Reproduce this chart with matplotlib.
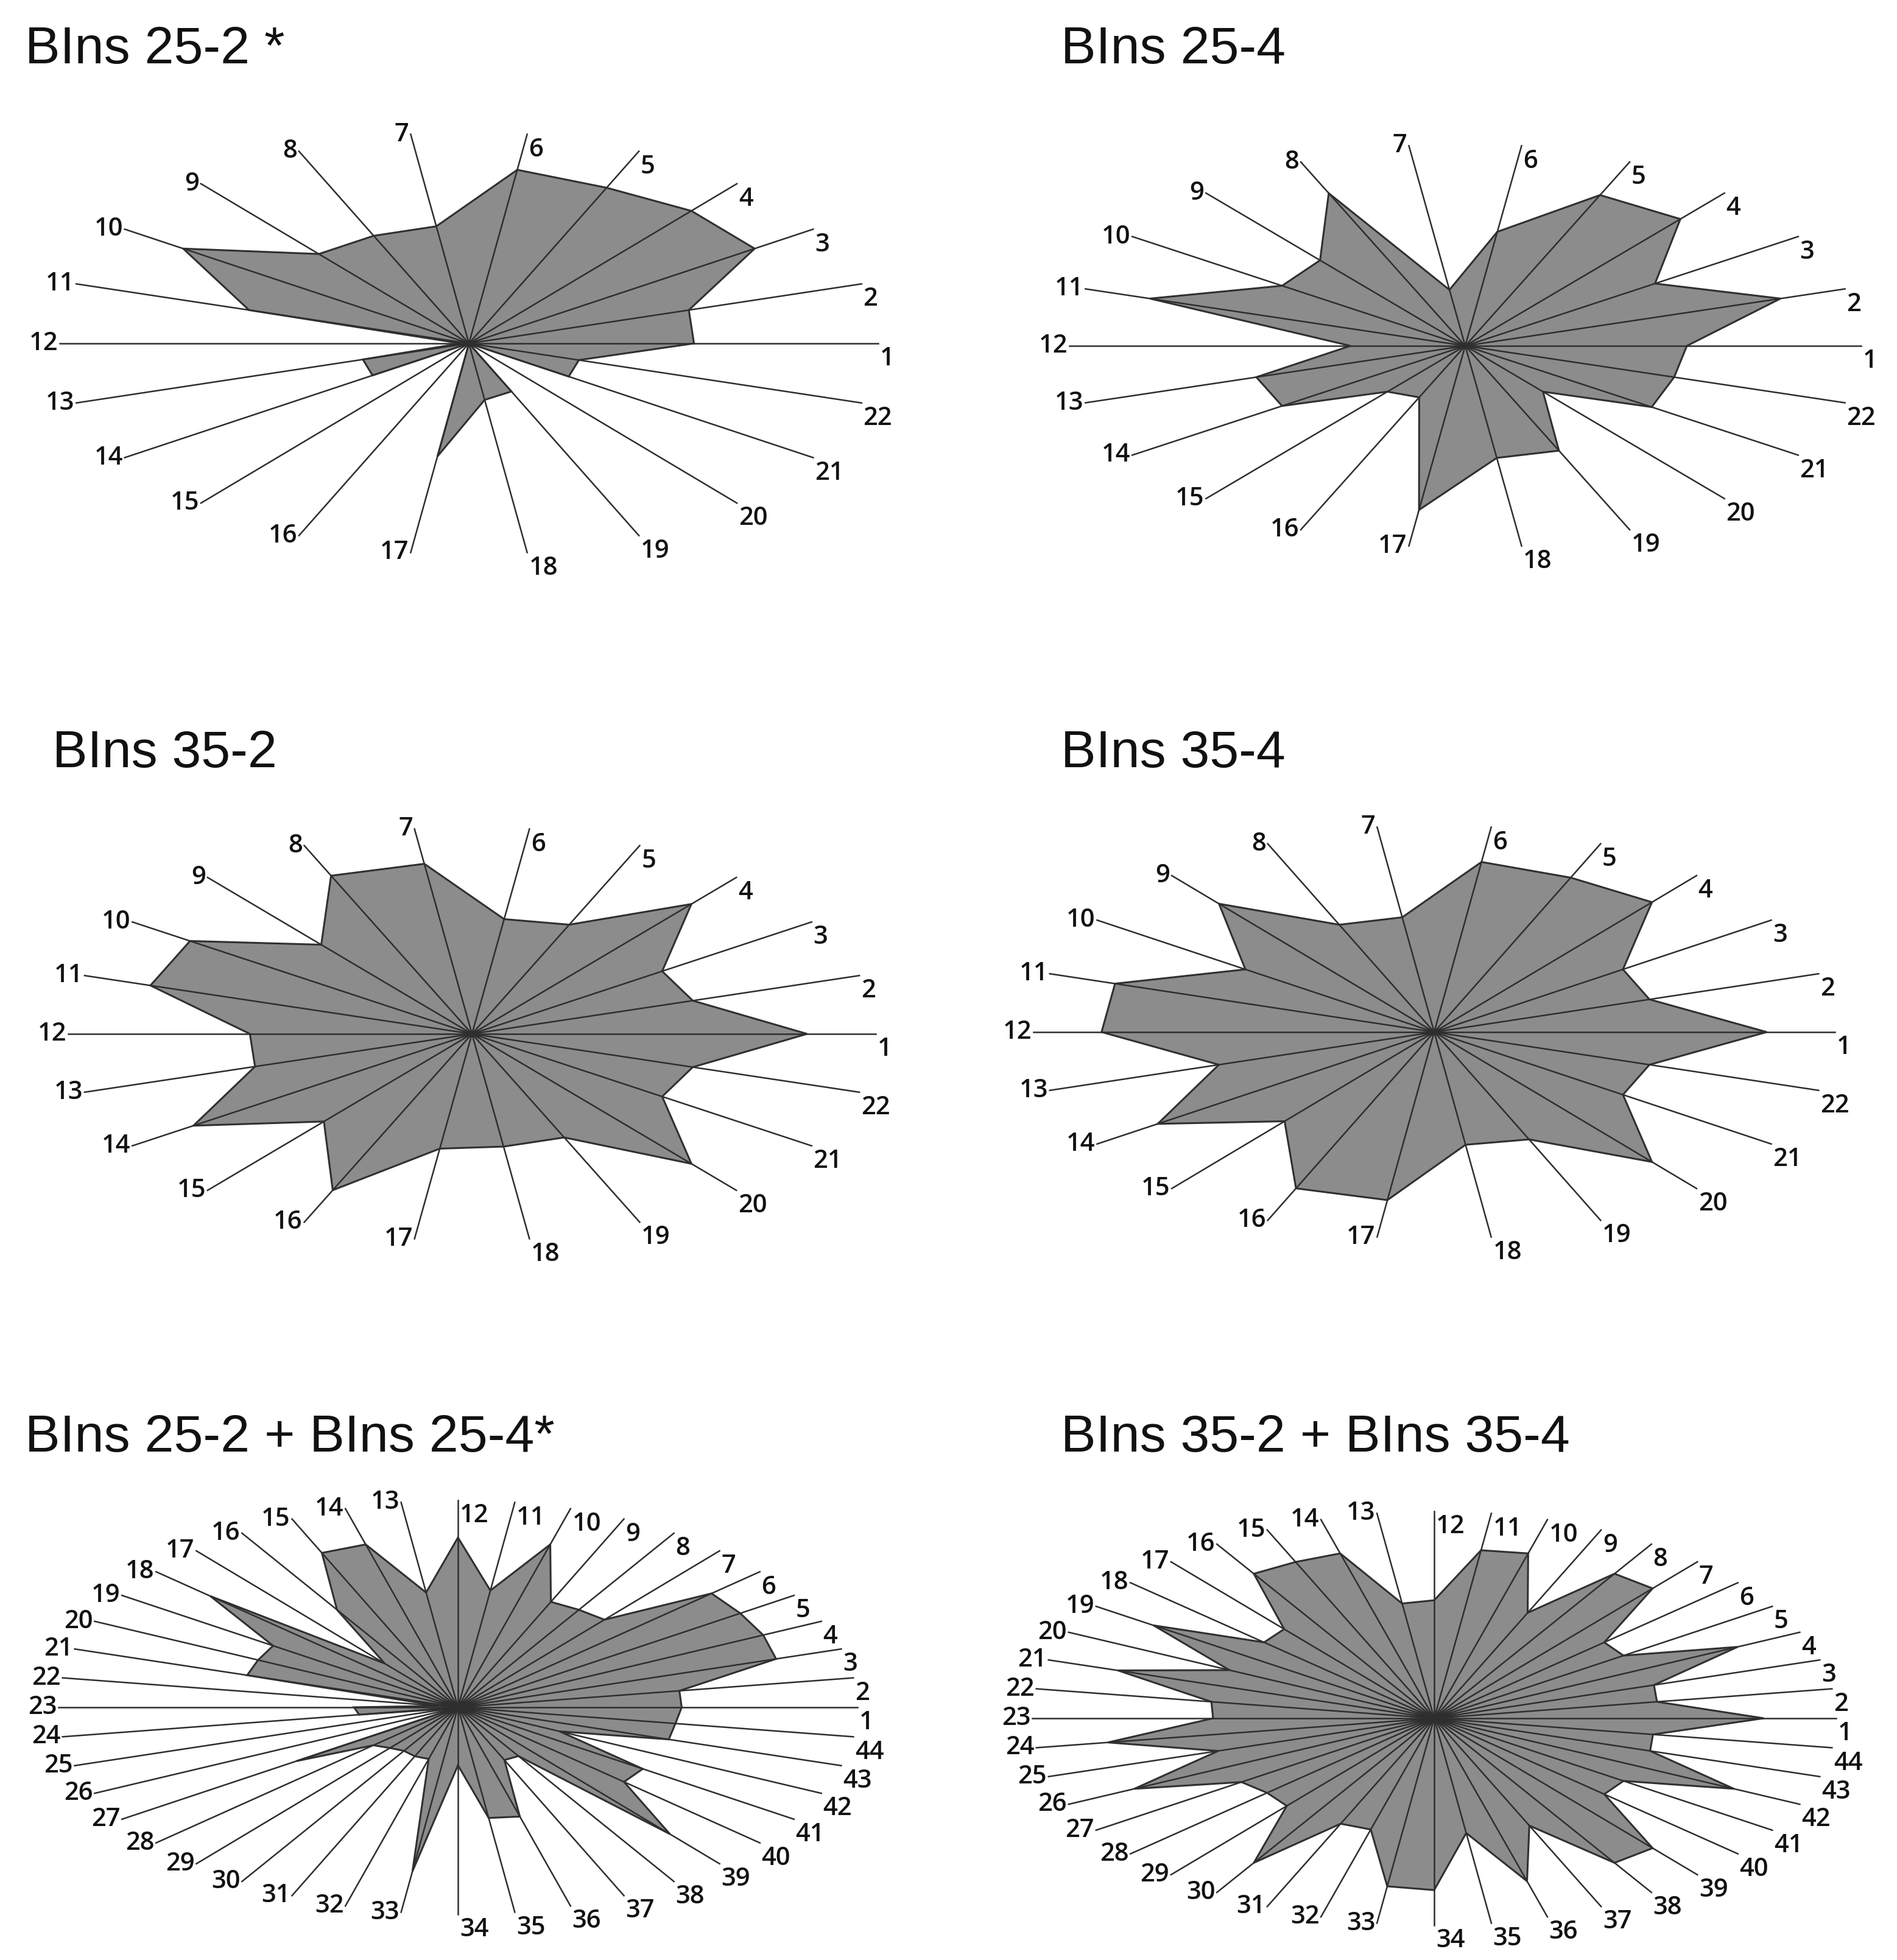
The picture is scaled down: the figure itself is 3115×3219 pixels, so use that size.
import numpy as np
import matplotlib.pyplot as plt

W, H = 3115, 3219

titles = ["BIns 25-2 *", "BIns 25-4", "BIns 35-2", "BIns 35-4",
          "BIns 25-2 + BIns 25-4*", "BIns 35-2 + BIns 35-4"]

# value on each spoke, as a fraction of the spoke length (spoke 1 first)
bins_25_2 = [0.55, 0.56, 0.83, 0.83, 0.81, 0.83, 0.56, 0.56, 0.56, 0.83, 0.56,
             0.02, 0.27, 0.28, 0.00, 0.00, 0.54, 0.27, 0.25, 0.00, 0.29, 0.28]
bins_25_4 = [0.56, 0.83, 0.57, 0.83, 0.82, 0.57, 0.28, 0.83, 0.56, 0.55, 0.83,
             0.29, 0.55, 0.55, 0.30, 0.28, 0.82, 0.56, 0.57, 0.30, 0.56, 0.55]
bins_35_2 = [0.83, 0.57, 0.56, 0.83, 0.58, 0.56, 0.83, 0.84, 0.57, 0.83, 0.83,
             0.55, 0.56, 0.82, 0.56, 0.83, 0.56, 0.55, 0.55, 0.83, 0.56, 0.57]
bins_35_4 = [0.83, 0.56, 0.56, 0.83, 0.82, 0.83, 0.56, 0.57, 0.82, 0.56, 0.83,
             0.83, 0.56, 0.82, 0.57, 0.83, 0.82, 0.55, 0.57, 0.83, 0.56, 0.56]
bins_25_both = [0.56, 0.56, 0.83, 0.84, 0.84, 0.84, 0.56, 0.56, 0.56, 0.82, 0.57,
                0.82, 0.56, 0.82, 0.82, 0.56, 0.28, 0.82, 0.55, 0.55, 0.55, 0.05,
                0.26, 0.25, 0.02, 0.00, 0.48, 0.28, 0.26, 0.25, 0.26, 0.26, 0.80,
                0.28, 0.54, 0.55, 0.28, 0.28, 0.81, 0.55, 0.55, 0.28, 0.55, 0.55]
bins_35_both = [0.82, 0.56, 0.57, 0.83, 0.56, 0.56, 0.83, 0.83, 0.56, 0.83, 0.82,
                0.57, 0.56, 0.83, 0.83, 0.83, 0.57, 0.56, 0.83, 0.56, 0.82, 0.56,
                0.55, 0.82, 0.56, 0.82, 0.57, 0.55, 0.56, 0.83, 0.56, 0.56, 0.82,
                0.83, 0.56, 0.82, 0.57, 0.83, 0.83, 0.56, 0.56, 0.82, 0.56, 0.55]

series = [bins_25_2, bins_25_4, bins_35_2, bins_35_4, bins_25_both, bins_35_both]

# layout in pixels: centre x, centre y, half width, half height, title x, title y
layout = [
    (770, 564, 672, 347, 41, 82),
    (2406, 568, 650, 332, 1742, 82),
    (775, 1698, 663, 340, 86, 1238),
    (2355, 1695, 658, 340, 1742, 1238),
    (752, 2804, 656, 340, 41, 2362),
    (2355, 2822, 660, 340, 1742, 2362),
]

fig = plt.figure(figsize=(W / 100, H / 100), dpi=100)


def radar(values, cx, cy, a, b):
    n = len(values)
    ax = fig.add_axes([(cx - a) / W, 1 - (cy + b) / H, 2 * a / W, 2 * b / H],
                      projection="polar")
    ax.set_aspect("auto")  # lets the polar frame stretch into an ellipse
    ax.set_axis_off()
    ax.set_ylim(0, 1)
    theta = np.arange(n) * 2 * np.pi / n
    ax.fill(np.append(theta, theta[0]), np.append(values, values[0]),
            facecolor="#8c8c8c", edgecolor="#303030", lw=2.2, zorder=2,
            clip_on=False)
    for k, t in enumerate(theta):
        ax.plot([t, t], [0, 1], color="#2e2e2e", lw=1.8, zorder=3,
                clip_on=False)
        if np.cos(t) > -1e-6:
            ax.annotate(str(k + 1), xy=(t, 1), xytext=(2, -3),
                        textcoords="offset points", ha="left", va="top",
                        fontsize=30, family="Open Sans", weight="semibold",
                        color="#111111", annotation_clip=False)
        else:
            ax.annotate(str(k + 1), xy=(t, 1), xytext=(-2, 0),
                        textcoords="offset points", ha="right", va="center",
                        fontsize=30, family="Open Sans", weight="semibold",
                        color="#111111", annotation_clip=False)
    return ax


for title, values, (cx, cy, a, b, tx, ty) in zip(titles, series, layout):
    radar(values, cx, cy, a, b)
    fig.text(tx / W, 1 - ty / H, title, ha="left", va="center",
             fontsize=62, family="Liberation Sans", color="#111111")

fig.savefig("out.png", dpi=100, facecolor="white")
